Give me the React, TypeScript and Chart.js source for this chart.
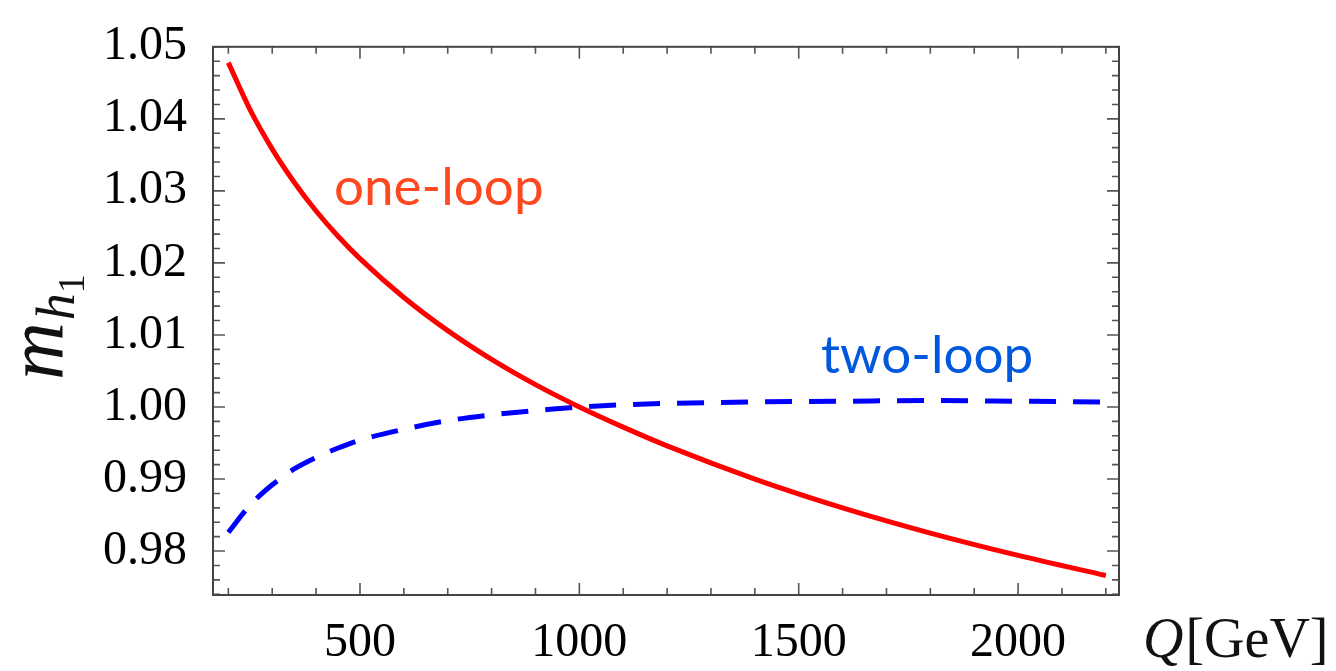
import React, { useEffect, useRef } from "react";
import { Chart, registerables } from "chart.js";

Chart.register(...registerables);

// Renormalization scale Q [GeV]
const qValues = [200, 250, 300, 350, 400, 450, 500, 600, 700, 800, 900, 1000, 1100, 1200, 1400, 1600, 1800, 2000, 2200];
// one-loop m_h1 (normalized)
const oneLoop = [1.0478, 1.0412, 1.0358, 1.0312, 1.0272, 1.0237, 1.0206, 1.0152, 1.0106, 1.0066, 1.0031, 1.0, 0.9972, 0.9946, 0.99, 0.986, 0.9825, 0.9794, 0.9766];
// two-loop m_h1 (normalized)
const twoLoop = [0.9826, 0.9864, 0.9892, 0.9914, 0.993, 0.9943, 0.9954, 0.9969, 0.9981, 0.9989, 0.9995, 1.0, 1.0003, 1.0005, 1.0007, 1.0008, 1.0009, 1.0008, 1.0007];

const xTickValues = [500, 1000, 1500, 2000];
const yTickValues = [0.98, 0.99, 1.0, 1.01, 1.02, 1.03, 1.04, 1.05];
const xMinorStep = 100;
const yMinorStep = 0.002;
const xRange = [165, 2230];
const yRange = [0.9739, 1.05];

const SERIF = "'Liberation Serif', 'DejaVu Serif', serif";
const SANS = "Lato, 'Open Sans', sans-serif";

const framePlugin = {
  id: "framePlugin",
  afterDraw(chart: any) {
    const { ctx, chartArea } = chart;
    const { left, right, top, bottom } = chartArea;
    const xs = chart.scales.x;
    const ys = chart.scales.y;
    ctx.save();
    // ticks
    ctx.strokeStyle = "#555";
    ctx.lineWidth = 1.6;
    const drawXTick = (v: number, len: number) => {
      const px = xs.getPixelForValue(v);
      ctx.beginPath();
      ctx.moveTo(px, bottom);
      ctx.lineTo(px, bottom - len);
      ctx.moveTo(px, top);
      ctx.lineTo(px, top + len);
      ctx.stroke();
    };
    const drawYTick = (v: number, len: number) => {
      const py = ys.getPixelForValue(v);
      ctx.beginPath();
      ctx.moveTo(left, py);
      ctx.lineTo(left + len, py);
      ctx.moveTo(right, py);
      ctx.lineTo(right - len, py);
      ctx.stroke();
    };
    for (let v = Math.ceil(xRange[0] / xMinorStep) * xMinorStep; v <= xRange[1]; v += xMinorStep) {
      const major = xTickValues.includes(v);
      drawXTick(v, major ? 12 : 7);
    }
    const nY = Math.round((yRange[1] - 0.974) / yMinorStep);
    for (let i = 0; i <= nY; i++) {
      const v = 0.974 + i * yMinorStep;
      const major = yTickValues.some((t) => Math.abs(t - v) < 1e-6);
      drawYTick(v, major ? 12 : 7);
    }
    // frame
    ctx.strokeStyle = "#444";
    ctx.lineWidth = 2;
    ctx.strokeRect(left, top, right - left, bottom - top);

    // annotations
    ctx.fillStyle = "#FF4820";
    ctx.font = `53px ${SANS}`;
    ctx.textAlign = "left";
    ctx.textBaseline = "alphabetic";
    ctx.fillText("one-loop", 334, 205);
    ctx.fillStyle = "#0058DC";
    ctx.fillText("two-loop", 821, 373);

    // x title: Q[GeV]
    ctx.fillStyle = "#111";
    ctx.font = `italic 56px ${SERIF}`;
    ctx.fillText("Q", 1143, 657);
    const qw = ctx.measureText("Q").width;
    ctx.font = `56px ${SERIF}`;
    ctx.fillText("[GeV]", 1143 + qw + 2, 657);

    // y title: m_{h_1}
    ctx.translate(62, 380);
    ctx.rotate(-Math.PI / 2);
    ctx.font = `italic 80px ${SERIF}`;
    ctx.fillText("m", 0, 0);
    const mw = ctx.measureText("m").width;
    ctx.font = `italic 54px ${SERIF}`;
    ctx.fillText("h", mw + 2, 12);
    const hw = ctx.measureText("h").width;
    ctx.font = `38px ${SERIF}`;
    ctx.fillText("1", mw + hw + 2, 22);
    ctx.restore();
  },
};

export default function App() {
  const ref = useRef<HTMLCanvasElement>(null);
  useEffect(() => {
    document.body.style.margin = "0";
    const canvas = ref.current!;
    const chart = new Chart(canvas, {
      type: "line",
      data: {
        datasets: [
          {
            label: "one-loop",
            data: qValues.map((q, i) => ({ x: q, y: oneLoop[i] })),
            borderColor: "#FF0000",
            borderWidth: 5,
            pointRadius: 0,
            cubicInterpolationMode: "monotone",
            fill: false,
          },
          {
            label: "two-loop",
            data: qValues.map((q, i) => ({ x: q, y: twoLoop[i] })),
            borderColor: "#0000FF",
            borderWidth: 5,
            borderDash: [27, 17],
            pointRadius: 0,
            cubicInterpolationMode: "monotone",
            fill: false,
          },
        ],
      },
      options: {
        animation: false,
        responsive: false,
        maintainAspectRatio: false,
        layout: { padding: { left: 0, top: 35, right: 217, bottom: 0 } },
        plugins: { legend: { display: false }, tooltip: { enabled: false }, title: { display: false } },
        scales: {
          x: {
            type: "linear",
            min: xRange[0],
            max: xRange[1],
            grid: { display: false },
            border: { display: false },
            afterBuildTicks: (s: any) => {
              s.ticks = xTickValues.map((v) => ({ value: v }));
            },
            afterFit: (s: any) => {
              s.height = 76;
            },
            ticks: {
              color: "#000",
              font: { family: SERIF, size: 48 },
              padding: 12,
              maxRotation: 0,
              callback: (v: any) => String(v),
            },
          },
          y: {
            type: "linear",
            min: yRange[0],
            max: yRange[1],
            grid: { display: false },
            border: { display: false },
            afterBuildTicks: (s: any) => {
              s.ticks = yTickValues.map((v) => ({ value: v }));
            },
            afterFit: (s: any) => {
              s.width = 213;
            },
            ticks: {
              color: "#000",
              font: { family: SERIF, size: 48 },
              padding: 18,
              callback: (v: any) => Number(v).toFixed(2),
            },
          },
        },
      },
      plugins: [framePlugin],
    });
    return () => chart.destroy();
  }, []);
  return (
    <div style={{ width: 1336, height: 671, background: "#fff" }}>
      <canvas ref={ref} width={1336} height={671} style={{ display: "block", width: 1336, height: 671 }} />
    </div>
  );
}
